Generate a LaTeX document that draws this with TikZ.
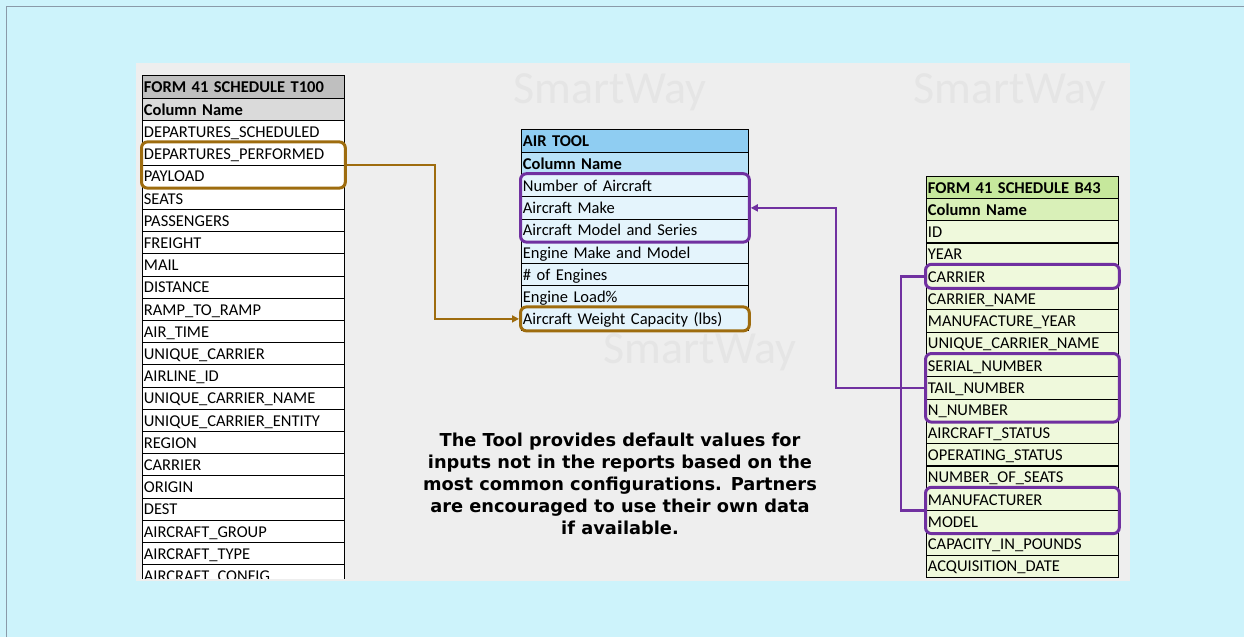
\documentclass[tikz,border=0pt]{standalone}
\usepackage{fontspec}
\setmainfont{Carlito}
\newfontfamily\notefont{DejaVu Sans}
\usetikzlibrary{arrows.meta, positioning, fit, backgrounds}
\definecolor{slideCyan}{HTML}{CDF3FB}
\definecolor{frameGray}{HTML}{8A9AA8}
\definecolor{panelGray}{HTML}{EEEEEE}
\definecolor{markGray}{HTML}{E5E5E5}
\definecolor{tGray}{HTML}{BFBFBF}
\definecolor{tGrayLt}{HTML}{DADADA}
\definecolor{aBlue}{HTML}{8FCDF2}
\definecolor{aBlueLt}{HTML}{B8E2F8}
\definecolor{aBlueRow}{HTML}{E4F4FC}
\definecolor{bGreen}{HTML}{C6E89C}
\definecolor{bGreenLt}{HTML}{D9F0B8}
\definecolor{bGreenRow}{HTML}{EFF9DC}
\definecolor{linkPurple}{HTML}{7030A0}
\definecolor{linkBrown}{HTML}{9E6C0E}

\begin{document}
\begin{tikzpicture}[x=1pt, y=-1pt,
    cell/.style={rectangle, draw=black, line width=0.8pt, anchor=north west,
                 minimum height=22.2pt, inner xsep=1.5pt, inner ysep=0pt,
                 text height=13.2pt, text depth=1.8pt, align=left,
                 font=\fontsize{16.5}{18}\selectfont},
    hdr/.style={font=\fontsize{16.5}{18}\selectfont\bfseries},
    lcell/.style={cell, text width=199pt, fill=white},
    mcell/.style={cell, text width=224pt, fill=aBlueRow},
    rcell/.style={cell, text width=189pt, fill=bGreenRow},
    selbox/.style={draw=#1, line width=3pt, rounded corners=6pt, inner sep=0.5pt},
    link/.style={draw=#1, line width=2.6pt, -{Triangle[length=7pt,width=7pt]}},
    wmark/.style={text=markGray, font=\fontsize{46}{46}\selectfont}
  ]
  \useasboundingbox (0,0) rectangle (1244,637);
  \fill[slideCyan] (0,0) rectangle (1244,637);
  \draw[frameGray, line width=1pt] (6,637) -- (6,6) -- (1244,6);

  % pasted picture with faint watermark
  \fill[panelGray] (136,63) rectangle (1130,581);
  \node[wmark] (w1) at (610,92) {SmartWay};
  \node[wmark] (w2) at (1010,92) {SmartWay};
  \node[wmark] (w3) at (700,352) {SmartWay};

  % FORM 41 SCHEDULE T100
  \begin{scope}
    \clip (130,60) rectangle (360,578);
    \node[lcell, hdr, fill=tGray, minimum height=23pt] (lhead) at (142,75) {FORM 41 SCHEDULE T100};
    \node[lcell, hdr, fill=tGrayLt] (lcol) at (142,98) {Column Name};
    \foreach \txt [count=\i] in {DEPARTURES\_SCHEDULED, DEPARTURES\_PERFORMED, PAYLOAD,
        SEATS, PASSENGERS, FREIGHT, MAIL, DISTANCE, RAMP\_TO\_RAMP, AIR\_TIME,
        UNIQUE\_CARRIER, AIRLINE\_ID, UNIQUE\_CARRIER\_NAME, UNIQUE\_CARRIER\_ENTITY,
        REGION, CARRIER, ORIGIN, DEST, AIRCRAFT\_GROUP, AIRCRAFT\_TYPE, AIRCRAFT\_CONFIG}
      \node[lcell] (l\i) at (142,{120.2+22.2*(\i-1)}) {\txt};
  \end{scope}

  % AIR TOOL
  \node[mcell, hdr, fill=aBlue, minimum height=23pt] (mhead) at (521,129) {AIR TOOL};
  \node[mcell, hdr, fill=aBlueLt] (mcol) at (521,152) {Column Name};
  \foreach \txt [count=\i] in {Number of Aircraft, Aircraft Make, Aircraft Model and Series,
      Engine Make and Model, \#~of Engines, Engine Load\%, Aircraft Weight Capacity (lbs)}
    \node[mcell] (m\i) at (521,{174.2+22.2*(\i-1)}) {\txt};

  % FORM 41 SCHEDULE B43
  \node[rcell, hdr, fill=bGreen, minimum height=22pt] (rhead) at (926,176) {FORM 41 SCHEDULE B43};
  \node[rcell, hdr, fill=bGreenLt] (rcol) at (926,198) {Column Name};
  \foreach \txt [count=\i] in {ID, YEAR, CARRIER, CARRIER\_NAME, MANUFACTURE\_YEAR,
      UNIQUE\_CARRIER\_NAME, SERIAL\_NUMBER, TAIL\_NUMBER, N\_NUMBER, AIRCRAFT\_STATUS,
      OPERATING\_STATUS, NUMBER\_OF\_SEATS, MANUFACTURER, MODEL, CAPACITY\_IN\_POUNDS,
      ACQUISITION\_DATE}
    \node[rcell] (r\i) at (926,{220.2+22.3*(\i-1)}) {\txt};

  % highlighted groups
  \node[selbox=linkBrown, fit=(l2)(l3)] (lsel) {};
  \node[selbox=linkBrown, fit=(m7)] (msel2) {};
  \node[selbox=linkPurple, fit=(m1)(m3)] (msel) {};
  \node[selbox=linkPurple, fit=(r3)] (rsel1) {};
  \node[selbox=linkPurple, fit=(r7)(r9)] (rsel2) {};
  \node[selbox=linkPurple, fit=(r13)(r14)] (rsel3) {};

  % links
  \draw[link=linkBrown] (lsel.east) -- ++(88,0) |- (msel2.west);
  \draw[link=linkPurple] (rsel2.west) -- ++(-88,0) |- (msel.east);
  \draw[draw=linkPurple, line width=2.6pt] (rsel1.west) -- ++(-23,0) |- (rsel3.west);

  \node[font=\notefont\bfseries\fontsize{17.8}{22}\selectfont, align=center] (note) at (620,484)
    {The Tool provides default values for\\inputs not in the reports based on the\\
     most common configurations.\enspace Partners\\are encouraged to use their own data\\
     if available.};
\end{tikzpicture}
\end{document}
